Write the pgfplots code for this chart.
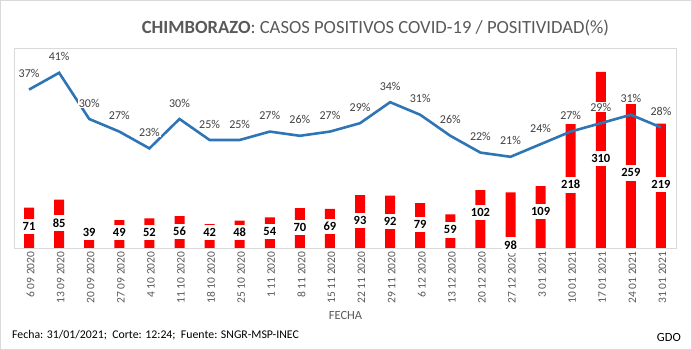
\documentclass[border=0pt]{standalone}
\usepackage{pgfplots}
\pgfplotsset{compat=1.18}
\usepackage{pgfplotstable}
\usepackage{fontspec}
\setmainfont{Carlito}
\definecolor{barred}{HTML}{FF0000}
\definecolor{lineblue}{HTML}{2E75B6}
\definecolor{txtgray}{HTML}{595959}
\definecolor{lblgray}{HTML}{404040}
\definecolor{framegray}{HTML}{D9D9D9}

\pgfplotstableread{
x cases labely pct
0 71 37.7 37
1 85 43.7 41
2 39 27.1 30
3 49 27.1 27
4 52 27.1 23
5 56 28.9 30
6 42 27.1 25
7 48 27.1 25
8 54 28.9 27
9 70 36.0 26
10 69 37.7 27
11 93 47.8 29
12 92 46.6 34
13 79 41.9 31
14 59 31.9 26
15 102 63.1 22
16 98 5.3 21
17 109 64.3 24
18 218 111.5 27
19 310 157.5 29
20 259 132.2 31
21 219 111.5 28
}\datatable

\begin{document}
\begin{tikzpicture}[x=1pt,y=1pt]
\useasboundingbox (0,0) rectangle (692,350);
\draw[framegray] (0.5,0.5) rectangle (691.5,349.5);
\begin{axis}[
  at={(14pt,102pt)}, anchor=south west,
  scale only axis, width=662pt, height=200pt,
  xmin=-0.5, xmax=21.5, ymin=0, ymax=352,
  axis line style={framegray},
  ytick=\empty,
  xtick={0,...,21},
  xticklabels={6 09 2020,13 09 2020,20 09 2020,27 09 2020,4 10 2020,11 10 2020,18 10 2020,25 10 2020,1 11 2020,8 11 2020,15 11 2020,22 11 2020,29 11 2020,6 12 2020,13 12 2020,20 12 2020,27 12 2020,3 01 2021,10 01 2021,17 01 2021,24 01 2021,31 01 2021},
  major tick length=0pt,
  xticklabel style={rotate=90, anchor=east, yshift=-1.5pt, font=\fontsize{11.5}{13}\selectfont, text=txtgray},
  /pgf/number format/assume math mode=true,
  clip=false,
]
\addplot[ybar, bar width=10pt, fill=barred, draw=none] table[x=x,y=cases]{\datatable};
\addplot[draw=none, mark=none, point meta=explicit,
  nodes near coords={\pgfmathprintnumber{\pgfplotspointmeta}},
  nodes near coords style={anchor=center, fill=white, inner xsep=2pt, inner ysep=3.5pt,
    font=\bfseries\fontsize{12.5}{14}\selectfont, text=black}]
  table[x=x, y=labely, meta=cases]{\datatable};
\end{axis}
\begin{axis}[
  at={(14pt,102pt)}, anchor=south west,
  scale only axis, width=662pt, height=200pt,
  xmin=-0.5, xmax=21.5, ymin=-0.71, ymax=46.9,
  hide axis,
  /pgf/number format/assume math mode=true,
  clip=false,
]
\addplot[lineblue, line width=2.6pt, mark=none, point meta=y,
  nodes near coords={\pgfmathprintnumber{\pgfplotspointmeta}\%},
  nodes near coords style={anchor=center, yshift=16pt, fill=white, inner sep=0.8pt,
    font=\fontsize{12}{14}\selectfont, text=lblgray}]
  table[x=x, y=pct]{\datatable};
\end{axis}
\node[anchor=base west, inner sep=0, text=txtgray, font=\fontsize{18.6}{22}\selectfont] at (141.7,316.7) {\textbf{CHIMBORAZO}: CASOS POSITIVOS COVID-19 / POSITIVIDAD(\%)};
\node[anchor=base, inner sep=0, text=txtgray, font=\fontsize{12.5}{14}\selectfont] at (345.5,30.7) {FECHA};
\node[anchor=base west, inner sep=0, text=black, font=\fontsize{11.8}{14}\selectfont] at (12,11.7) {Fecha: 31/01/2021;\ \ Corte: 12:24;\ \ Fuente: SNGR-MSP-INEC};
\node[anchor=base east, inner sep=0, text=black, font=\fontsize{12.5}{14}\selectfont] at (681,8.3) {GDO};
\end{tikzpicture}
\end{document}
